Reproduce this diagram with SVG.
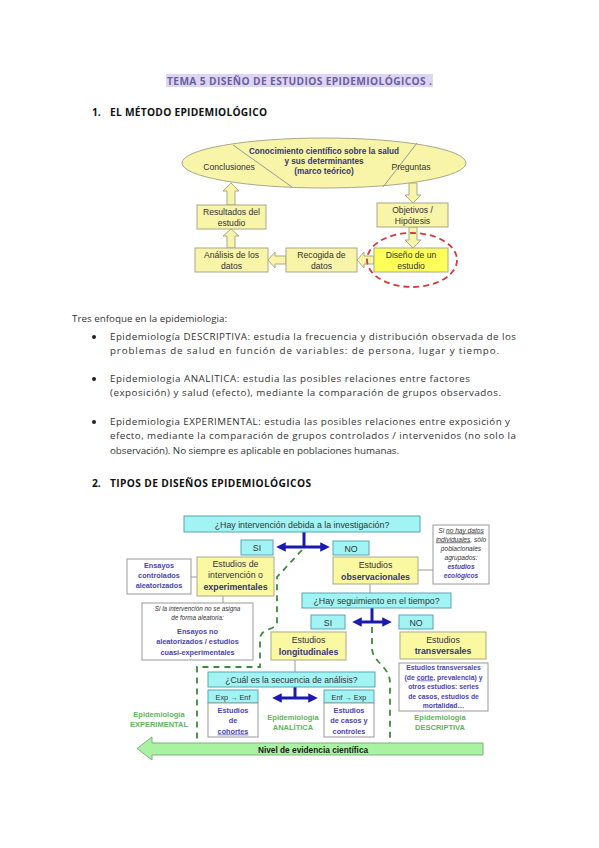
<svg xmlns="http://www.w3.org/2000/svg" width="599" height="848" viewBox="0 0 599 848">
<style>
.body{font-family:"Open Sans","Noto Sans",sans-serif;font-size:9.8px;fill:#333}
.h{font-family:"Open Sans","Noto Sans",sans-serif;font-size:10.2px;font-weight:bold;fill:#111}
.d{font-family:"Liberation Sans",Arial,sans-serif;font-size:8.3px;fill:#333;text-anchor:middle}
.nb{font-weight:bold;fill:#35357a}
.bb{font-family:"Liberation Sans",Arial,sans-serif;font-weight:bold;fill:#4a45b0;text-anchor:middle;font-size:7.3px}
.it{font-family:"Liberation Sans",Arial,sans-serif;font-style:italic;fill:#333;text-anchor:middle;font-size:6.3px}
.gr{font-family:"Liberation Sans",Arial,sans-serif;font-weight:bold;fill:#5fb35f;text-anchor:middle;font-size:7.5px}
.y1{fill:#f8f4a8;stroke:#a9a98a;stroke-width:1}
.y2{fill:#fbf8a2;stroke:#a9a98a;stroke-width:1}
.cy{fill:#a2f4f4;stroke:#5aa5b0;stroke-width:1}
.wh{fill:#fff;stroke:#999;stroke-width:1}
.ln{stroke:#999;stroke-width:1;fill:none}
.bl{stroke:#1a1ab0;stroke-width:3;fill:none}
.gd{stroke:#3d8a3d;stroke-width:1.8;fill:none;stroke-dasharray:6 5}
.ba{fill:#f8f4a8;stroke:#a9a98a;stroke-width:1}
</style>
<defs>
<marker id="ah" viewBox="0 0 10 10" refX="6" refY="5" markerWidth="3.2" markerHeight="3.2" orient="auto-start-reverse" markerUnits="strokeWidth">
<path d="M0,0 L10,5 L0,10 z" fill="#1a1ab0"/>
</marker>
</defs>

<!-- Title -->
<g id="title">
<rect x="166" y="74" width="267" height="13" fill="#ddd5f2"/>
<text x="167" y="84.5" class="h" style="fill:#6a5f9e" textLength="265">TEMA 5 DISEÑO DE ESTUDIOS EPIDEMIOLÓGICOS .</text>
</g>
<g id="heading1">
<text x="92" y="116" class="h">1.</text>
<text x="110" y="116" class="h" textLength="157">EL MÉTODO EPIDEMIOLÓGICO</text>
</g>

<!-- Diagram 1 -->
<g id="d1-connectors">
<polygon class="ba" points="231,229 239,236 235,236 235,248 227,248 227,236 223,236"/>
<polygon class="ba" points="231,183 239,191 235,191 235,205 227,205 227,191 223,191"/>
<polygon class="ba" points="413,203 421,195 417,195 417,183 409,183 409,195 405,195"/>
<polygon class="ba" points="413,248 421,240 417,240 417,227 409,227 409,240 405,240"/>
<polygon class="ba" points="357,260 364,252 364,256 374,256 374,264 364,264 364,268"/>
<polygon class="ba" points="268,260 275,252 275,256 286,256 286,264 275,264 275,268"/>
</g>
<g id="n-ellipse">
<ellipse cx="324" cy="163" rx="142" ry="25" class="y1"/>
<line x1="233" y1="145" x2="292" y2="187" class="ln"/>
<line x1="417" y1="143" x2="383" y2="187" class="ln"/>
<text x="229" y="170" class="d" style="font-size:8.6px">Conclusiones</text>
<text x="411" y="170" class="d" style="font-size:8.6px">Preguntas</text>
<text class="d nb" style="font-size:8.2px"><tspan x="324" y="154">Conocimiento científico sobre la salud</tspan><tspan x="324" y="164">y sus determinantes</tspan><tspan x="324" y="174">(marco teórico)</tspan></text>
</g>
<g id="n-resultados">
<rect x="197" y="205" width="69" height="24" class="y1"/>
<text class="d" style="font-size:8.6px"><tspan x="231.5" y="215">Resultados del</tspan><tspan x="231.5" y="225.5">estudio</tspan></text>
</g>
<g id="n-analisis">
<rect x="195" y="248" width="73" height="24" class="y1"/>
<text class="d" style="font-size:8.6px"><tspan x="231.5" y="258">Análisis de los</tspan><tspan x="231.5" y="268.5">datos</tspan></text>
</g>
<g id="n-recogida">
<rect x="286" y="248" width="71" height="24" class="y1"/>
<text class="d" style="font-size:8.6px"><tspan x="321.5" y="258">Recogida de</tspan><tspan x="321.5" y="268.5">datos</tspan></text>
</g>
<g id="n-objetivos">
<rect x="377" y="203" width="71" height="24" class="y1"/>
<text class="d" style="font-size:8.6px"><tspan x="412.5" y="213">Objetivos /</tspan><tspan x="412.5" y="223.5">Hipótesis</tspan></text>
</g>
<g id="n-diseno">
<rect x="374" y="248" width="74" height="24" fill="#ffff5a" stroke="#a9a98a"/>
<text class="d" style="font-size:8.6px"><tspan x="411" y="258">Diseño de un</tspan><tspan x="411" y="268.5">estudio</tspan></text>
<ellipse cx="412" cy="260" rx="45" ry="27" fill="none" stroke="#d43a3a" stroke-width="1.8" stroke-dasharray="6 4"/>
</g>

<!-- Body text -->
<g id="body-text">
<text x="72" y="322" class="body" textLength="155">Tres enfoque en la epidemiologia:</text>
<circle cx="94" cy="337" r="2" fill="#222"/>
<text x="110" y="340" class="body" textLength="406">Epidemiología DESCRIPTIVA: estudia la frecuencia y distribución observada de los</text>
<text x="110" y="354" class="body" textLength="389">problemas de salud en función de variables: de persona, lugar y tiempo.</text>
<circle cx="94" cy="379" r="2" fill="#222"/>
<text x="110" y="382" class="body" textLength="360">Epidemiologia ANALITICA: estudia las posibles relaciones entre factores</text>
<text x="110" y="396" class="body" textLength="391">(exposición) y salud (efecto), mediante la comparación de grupos observados.</text>
<circle cx="94" cy="422" r="2" fill="#222"/>
<text x="110" y="425" class="body" textLength="400">Epidemiologia EXPERIMENTAL: estudia las posibles relaciones entre exposición y</text>
<text x="110" y="439" class="body" textLength="406">efecto, mediante la comparación de grupos controlados / intervenidos (no solo la</text>
<text x="110" y="454" class="body" textLength="289">observación). No siempre es aplicable en poblaciones humanas.</text>
</g>
<g id="heading2">
<text x="92" y="487" class="h">2.</text>
<text x="110" y="487" class="h" textLength="201">TIPOS DE DISEÑOS EPIDEMIOLÓGICOS</text>
</g>

<!-- Diagram 2 connectors -->
<g id="d2-connectors">
<line x1="304" y1="532" x2="304" y2="547" class="bl"/>
<line x1="280" y1="547" x2="326" y2="547" class="bl" marker-start="url(#ah)" marker-end="url(#ah)"/>
<line x1="372" y1="608" x2="372" y2="622" class="bl"/>
<line x1="356" y1="622" x2="388" y2="622" class="bl" marker-start="url(#ah)" marker-end="url(#ah)"/>
<line x1="295" y1="687" x2="295" y2="698" class="bl"/>
<line x1="276" y1="698" x2="314" y2="698" class="bl" marker-start="url(#ah)" marker-end="url(#ah)"/>
<line x1="191" y1="577" x2="197" y2="577" class="ln"/>
<line x1="223" y1="596" x2="223" y2="603" class="ln"/>
<line x1="418" y1="570" x2="433" y2="570" class="ln"/>
<line x1="370" y1="584" x2="370" y2="593" class="ln"/>
<line x1="295" y1="660" x2="295" y2="672" class="ln"/>
<path d="M302,550 L277,577 L277,622 C277,630 261,628 260,638 L260,667 L197,667 L197,742" class="gd"/>
<path d="M372,627 L372,648 C372,662 390,666 390,683 L390,743" class="gd"/>
</g>

<g id="n-q1">
<rect x="184" y="516" width="236" height="16" class="cy"/>
<text x="302" y="527.5" class="d" style="font-size:8.8px">¿Hay intervención debida a la investigación?</text>
</g>
<g id="n-si1">
<rect x="241" y="540" width="32" height="15" class="cy"/>
<text x="257" y="551" class="d" style="font-size:8.8px">SI</text>
</g>
<g id="n-no1">
<rect x="333" y="541" width="36" height="14" class="cy"/>
<text x="351" y="551.5" class="d" style="font-size:8.8px">NO</text>
</g>
<g id="n-ensayos">
<rect x="127" y="559" width="64" height="35" class="wh"/>
<text class="bb"><tspan x="159" y="568">Ensayos</tspan><tspan x="159" y="578">controlados</tspan><tspan x="159" y="588">aleatorizados</tspan></text>
</g>
<g id="n-intervencion">
<rect x="197" y="557" width="77" height="39" class="y2"/>
<text class="d" style="font-size:8.8px"><tspan x="235.5" y="567">Estudios de</tspan><tspan x="235.5" y="578">intervención o</tspan><tspan x="235.5" y="590" class="nb">experimentales</tspan></text>
</g>
<g id="n-noaleat">
<rect x="142" y="603" width="111" height="57" class="wh"/>
<text class="it"><tspan x="197.5" y="611">Si la intervención no se asigna</tspan><tspan x="197.5" y="620">de forma aleatoria:</tspan></text>
<text class="bb"><tspan x="197.5" y="633.5">Ensayos no</tspan><tspan x="197.5" y="644">aleatorizados / estudios</tspan><tspan x="197.5" y="654.5">cuasi-experimentales</tspan></text>
</g>
<g id="n-observ">
<rect x="333" y="557" width="85" height="27" class="y2"/>
<text class="d" style="font-size:8.8px"><tspan x="375.5" y="568">Estudios</tspan><tspan x="375.5" y="580" class="nb">observacionales</tspan></text>
</g>
<g id="n-ecolog">
<rect x="433" y="525" width="56" height="59" class="wh"/>
<text class="it" style="font-size:6.6px"><tspan x="461" y="532.5">Si <tspan text-decoration="underline">no hay datos</tspan></tspan><tspan x="461" y="541.5"><tspan text-decoration="underline">individuales</tspan>, sólo</tspan><tspan x="461" y="550.5">poblacionales</tspan><tspan x="461" y="559.5">agrupados:</tspan><tspan x="461" y="568.5" style="fill:#4a45b0;font-weight:bold">estudios</tspan><tspan x="461" y="577.5" style="fill:#4a45b0;font-weight:bold">ecológicos</tspan></text>
</g>
<g id="n-q2">
<rect x="302" y="593" width="149" height="15" class="cy"/>
<text x="376.5" y="604" class="d" style="font-size:8.8px">¿Hay seguimiento en el tiempo?</text>
</g>
<g id="n-si2">
<rect x="311" y="615" width="34" height="14" class="cy"/>
<text x="328" y="625.5" class="d" style="font-size:8.8px">SI</text>
</g>
<g id="n-no2">
<rect x="399" y="615" width="34" height="14" class="cy"/>
<text x="416" y="625.5" class="d" style="font-size:8.8px">NO</text>
</g>
<g id="n-longit">
<rect x="271" y="632" width="75" height="28" class="y2"/>
<text class="d" style="font-size:8.8px"><tspan x="308.5" y="643">Estudios</tspan><tspan x="308.5" y="655" class="nb">longitudinales</tspan></text>
</g>
<g id="n-transv">
<rect x="400" y="632" width="86" height="27" class="y2"/>
<text class="d" style="font-size:8.8px"><tspan x="443" y="642.5">Estudios</tspan><tspan x="443" y="654" class="nb">transversales</tspan></text>
</g>
<g id="n-transbox">
<rect x="399" y="663" width="89" height="48" class="wh"/>
<text class="bb" style="font-size:6.8px"><tspan x="443.5" y="670">Estudios transversales</tspan><tspan x="443.5" y="679.5">(de <tspan text-decoration="underline">corte</tspan>, prevalencia) y</tspan><tspan x="443.5" y="689">otros estudios: series</tspan><tspan x="443.5" y="698.5">de casos, estudios de</tspan><tspan x="443.5" y="708">mortalidad…</tspan></text>
</g>
<g id="n-q3">
<rect x="208" y="672" width="167" height="15" class="cy"/>
<text x="291.5" y="683" class="d" style="font-size:8.6px">¿Cuál es la secuencia de análisis?</text>
</g>
<g id="n-cohortes">
<rect x="208" y="690" width="50" height="13" class="cy"/>
<text x="233" y="699.5" class="d" style="font-size:7.3px">Exp → Enf</text>
<rect x="208" y="703" width="50" height="34" class="wh"/>
<text class="bb"><tspan x="233" y="712.5">Estudios</tspan><tspan x="233" y="723">de</tspan><tspan x="233" y="733.5" text-decoration="underline">cohortes</tspan></text>
</g>
<g id="n-casos">
<rect x="324" y="690" width="50" height="13" class="cy"/>
<text x="349" y="699.5" class="d" style="font-size:7.3px">Enf → Exp</text>
<rect x="324" y="703" width="50" height="34" class="wh"/>
<text class="bb"><tspan x="349" y="712.5">Estudios</tspan><tspan x="349" y="723">de casos y</tspan><tspan x="349" y="733.5">controles</tspan></text>
</g>
<g id="labels-epi">
<text class="gr"><tspan x="159" y="717">Epidemiología</tspan><tspan x="159" y="727">EXPERIMENTAL</tspan></text>
<text class="gr"><tspan x="293" y="720">Epidemiología</tspan><tspan x="293" y="730">ANALÍTICA</tspan></text>
<text class="gr"><tspan x="440" y="720">Epidemiología</tspan><tspan x="440" y="730">DESCRIPTIVA</tspan></text>
</g>
<g id="n-evidencia">
<polygon points="137,748.5 152,737 152,743 483,743 483,755 152,755 152,760" fill="#a8f2a2" stroke="#7fb07f" stroke-width="1"/>
<text x="313" y="752.5" class="d" style="font-weight:bold;fill:#1a1a1a;font-size:8.3px">Nivel de evidencia científica</text>
</g>
</svg>
